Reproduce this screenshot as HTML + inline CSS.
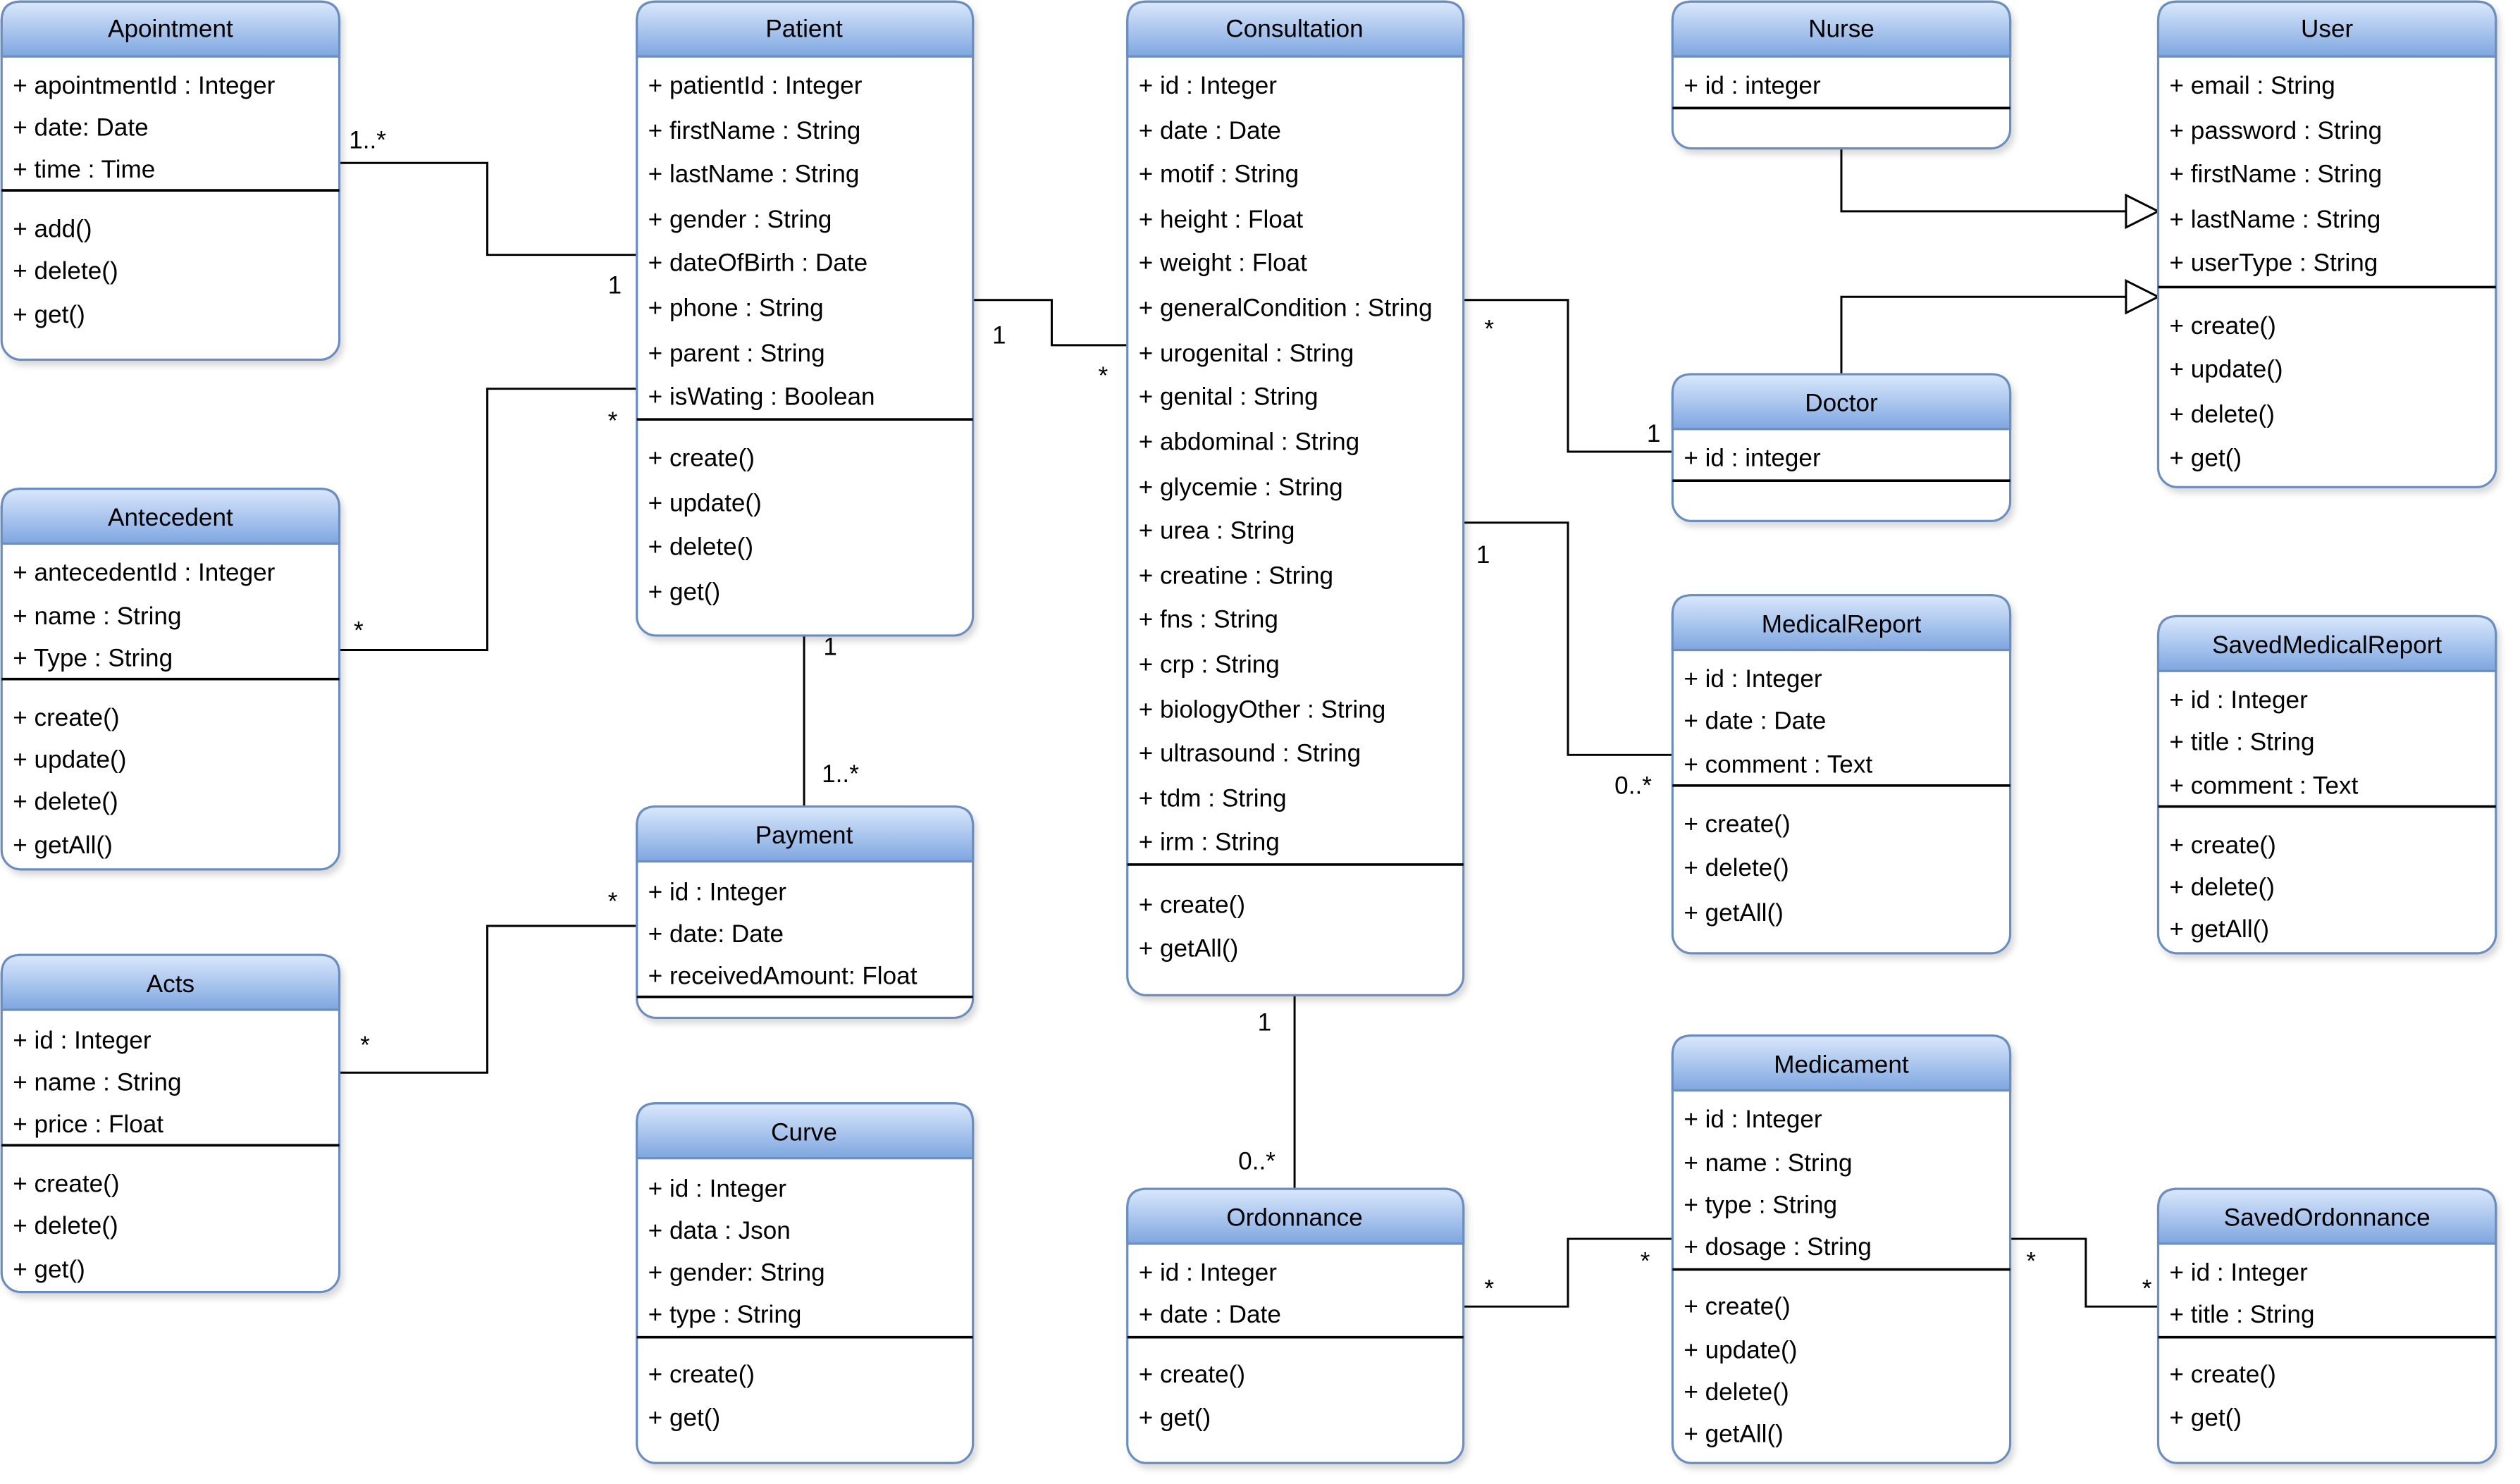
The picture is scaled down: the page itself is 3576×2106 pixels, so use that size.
<!DOCTYPE html>
<html><head><meta charset="utf-8"><style>
html,body{margin:0;padding:0;background:#fff;}
svg{display:block;}
text{font-family:"Liberation Sans",Arial,sans-serif;font-size:15.4px;fill:#000;}
.t{text-anchor:middle;}
.b{fill:#fff;stroke:#6c8ebf;stroke-width:1.4;}
.h{fill:url(#g);stroke:#6c8ebf;stroke-width:1.4;}
.d{stroke:#000;stroke-width:1.6;}
.c{fill:none;stroke:#000;stroke-width:1.3;}
.m{font-size:14px;}
</style></head><body>
<svg width="3576" height="2106" viewBox="0 0 1567 920" preserveAspectRatio="none" xmlns="http://www.w3.org/2000/svg">
<defs>
<linearGradient id="g" x1="0" y1="0" x2="0" y2="1"><stop offset="0" stop-color="#dae8fc"/><stop offset="1" stop-color="#7ea6e0"/></linearGradient>
<filter id="s" x="-10%" y="-10%" width="130%" height="130%"><feDropShadow dx="2" dy="3" stdDeviation="2" flood-color="#000" flood-opacity="0.15"/></filter>
</defs>

<!-- connectors -->
<polyline class="c" points="211,101 303,101 303,158 396,158"/>
<polyline class="c" points="211,403 303,403 303,241 396,241"/>
<polyline class="c" points="605,186 654,186 654,214 701,214"/>
<polyline class="c" points="500,394 500,500"/>
<polyline class="c" points="211,665 303,665 303,574 396,574"/>
<polyline class="c" points="910,186 975,186 975,280 1040,280"/>
<polyline class="c" points="910,324 975,324 975,468 1040,468"/>
<polyline class="c" points="805,617 805,737"/>
<polyline class="c" points="910,810 975,810 975,768 1040,768"/>
<polyline class="c" points="1250,768 1297,768 1297,810 1342,810"/>
<polyline class="c" points="1145,92 1145,131 1322,131"/>
<polygon points="1322,121 1342,131 1322,141" fill="#fff" stroke="#000" stroke-width="1.3"/>
<polyline class="c" points="1145,232 1145,184 1322,184"/>
<polygon points="1322,174 1342,184 1322,194" fill="#fff" stroke="#000" stroke-width="1.3"/>

<g class="m">
<text x="217" y="92">1..*</text><text x="378" y="182">1</text>
<text x="220" y="396">*</text><text x="378" y="266">*</text>
<text x="617" y="213">1</text><text x="683" y="238">*</text>
<text x="512" y="406">1</text><text x="511" y="485">1..*</text>
<text x="224" y="653">*</text><text x="378" y="564">*</text>
<text x="923" y="209">*</text><text x="1024" y="274">1</text>
<text x="918" y="349">1</text><text x="1004" y="492">0..*</text>
<text x="782" y="639">1</text><text x="770" y="725">0..*</text>
<text x="923" y="804">*</text><text x="1020" y="787">*</text>
<text x="1260" y="787">*</text><text x="1332" y="804">*</text>
</g>

<!-- Apointment -->
<g filter="url(#s)"><rect class="b" x="1" y="1" width="210" height="222" rx="12"/>
<path class="h" d="M1,35 V13 Q1,1 13,1 H199 Q211,1 211,13 V35 Z"/></g>
<text class="t" x="106" y="23">Apointment</text>
<text x="8" y="58">+ apointmentId : Integer</text><text x="8" y="84">+ date: Date</text><text x="8" y="110">+ time : Time</text>
<line class="d" x1="1" y1="118" x2="211" y2="118"/>
<text x="8" y="147">+ add()</text><text x="8" y="173">+ delete()</text><text x="8" y="200">+ get()</text>

<!-- Patient -->
<g filter="url(#s)"><rect class="b" x="396" y="1" width="209" height="393" rx="12"/>
<path class="h" d="M396,35 V13 Q396,1 408,1 H593 Q605,1 605,13 V35 Z"/></g>
<text class="t" x="500" y="23">Patient</text>
<text x="403" y="58">+ patientId : Integer</text><text x="403" y="86">+ firstName : String</text><text x="403" y="113">+ lastName : String</text><text x="403" y="141">+ gender : String</text><text x="403" y="168">+ dateOfBirth : Date</text><text x="403" y="196">+ phone : String</text><text x="403" y="224">+ parent : String</text><text x="403" y="251">+ isWating : Boolean</text>
<line class="d" x1="396" y1="260" x2="605" y2="260"/>
<text x="403" y="289">+ create()</text><text x="403" y="317">+ update()</text><text x="403" y="344">+ delete()</text><text x="403" y="372">+ get()</text>

<!-- Consultation -->
<g filter="url(#s)"><rect class="b" x="701" y="1" width="209" height="616" rx="12"/>
<path class="h" d="M701,35 V13 Q701,1 713,1 H898 Q910,1 910,13 V35 Z"/></g>
<text class="t" x="805" y="23">Consultation</text>
<text x="708" y="58">+ id : Integer</text><text x="708" y="86">+ date : Date</text><text x="708" y="113">+ motif : String</text><text x="708" y="141">+ height : Float</text><text x="708" y="168">+ weight : Float</text><text x="708" y="196">+ generalCondition : String</text><text x="708" y="224">+ urogenital : String</text><text x="708" y="251">+ genital : String</text><text x="708" y="279">+ abdominal : String</text><text x="708" y="307">+ glycemie : String</text><text x="708" y="334">+ urea : String</text><text x="708" y="362">+ creatine : String</text><text x="708" y="389">+ fns : String</text><text x="708" y="417">+ crp : String</text><text x="708" y="445">+ biologyOther : String</text><text x="708" y="472">+ ultrasound : String</text><text x="708" y="500">+ tdm : String</text><text x="708" y="527">+ irm : String</text>
<line class="d" x1="701" y1="536" x2="910" y2="536"/>
<text x="708" y="566">+ create()</text><text x="708" y="593">+ getAll()</text>

<!-- Nurse -->
<g filter="url(#s)"><rect class="b" x="1040" y="1" width="210" height="91" rx="12"/>
<path class="h" d="M1040,35 V13 Q1040,1 1052,1 H1238 Q1250,1 1250,13 V35 Z"/></g>
<text class="t" x="1145" y="23">Nurse</text>
<text x="1047" y="58">+ id : integer</text>
<line class="d" x1="1040" y1="67" x2="1250" y2="67"/>

<!-- User -->
<g filter="url(#s)"><rect class="b" x="1342" y="1" width="210" height="301" rx="12"/>
<path class="h" d="M1342,35 V13 Q1342,1 1354,1 H1540 Q1552,1 1552,13 V35 Z"/></g>
<text class="t" x="1447" y="23">User</text>
<text x="1349" y="58">+ email : String</text><text x="1349" y="86">+ password : String</text><text x="1349" y="113">+ firstName : String</text><text x="1349" y="141">+ lastName : String</text><text x="1349" y="168">+ userType : String</text>
<line class="d" x1="1342" y1="178" x2="1552" y2="178"/>
<text x="1349" y="207">+ create()</text><text x="1349" y="234">+ update()</text><text x="1349" y="262">+ delete()</text><text x="1349" y="289">+ get()</text>

<!-- Doctor -->
<g filter="url(#s)"><rect class="b" x="1040" y="232" width="210" height="91" rx="12"/>
<path class="h" d="M1040,266 V244 Q1040,232 1052,232 H1238 Q1250,232 1250,244 V266 Z"/></g>
<text class="t" x="1145" y="255">Doctor</text>
<text x="1047" y="289">+ id : integer</text>
<line class="d" x1="1040" y1="298" x2="1250" y2="298"/>

<!-- MedicalReport -->
<g filter="url(#s)"><rect class="b" x="1040" y="369" width="210" height="222" rx="12"/>
<path class="h" d="M1040,403 V381 Q1040,369 1052,369 H1238 Q1250,369 1250,381 V403 Z"/></g>
<text class="t" x="1145" y="392">MedicalReport</text>
<text x="1047" y="426">+ id : Integer</text><text x="1047" y="452">+ date : Date</text><text x="1047" y="479">+ comment : Text</text>
<line class="d" x1="1040" y1="487" x2="1250" y2="487"/>
<text x="1047" y="516">+ create()</text><text x="1047" y="543">+ delete()</text><text x="1047" y="571">+ getAll()</text>

<!-- SavedMedicalReport -->
<g filter="url(#s)"><rect class="b" x="1342" y="382" width="210" height="209" rx="12"/>
<path class="h" d="M1342,416 V394 Q1342,382 1354,382 H1540 Q1552,382 1552,394 V416 Z"/></g>
<text class="t" x="1447" y="405">SavedMedicalReport</text>
<text x="1349" y="439">+ id : Integer</text><text x="1349" y="465">+ title : String</text><text x="1349" y="492">+ comment : Text</text>
<line class="d" x1="1342" y1="500" x2="1552" y2="500"/>
<text x="1349" y="529">+ create()</text><text x="1349" y="555">+ delete()</text><text x="1349" y="581">+ getAll()</text>

<!-- Antecedent -->
<g filter="url(#s)"><rect class="b" x="1" y="303" width="210" height="236" rx="12"/>
<path class="h" d="M1,337 V315 Q1,303 13,303 H199 Q211,303 211,315 V337 Z"/></g>
<text class="t" x="106" y="326">Antecedent</text>
<text x="8" y="360">+ antecedentId : Integer</text><text x="8" y="387">+ name : String</text><text x="8" y="413">+ Type : String</text>
<line class="d" x1="1" y1="421" x2="211" y2="421"/>
<text x="8" y="450">+ create()</text><text x="8" y="476">+ update()</text><text x="8" y="502">+ delete()</text><text x="8" y="529">+ getAll()</text>

<!-- Payment -->
<g filter="url(#s)"><rect class="b" x="396" y="500" width="209" height="131" rx="12"/>
<path class="h" d="M396,534 V512 Q396,500 408,500 H593 Q605,500 605,512 V534 Z"/></g>
<text class="t" x="500" y="523">Payment</text>
<text x="403" y="558">+ id : Integer</text><text x="403" y="584">+ date: Date</text><text x="403" y="610">+ receivedAmount: Float</text>
<line class="d" x1="396" y1="618" x2="605" y2="618"/>

<!-- Acts -->
<g filter="url(#s)"><rect class="b" x="1" y="592" width="210" height="209" rx="12"/>
<path class="h" d="M1,626 V604 Q1,592 13,592 H199 Q211,592 211,604 V626 Z"/></g>
<text class="t" x="106" y="615">Acts</text>
<text x="8" y="650">+ id : Integer</text><text x="8" y="676">+ name : String</text><text x="8" y="702">+ price : Float</text>
<line class="d" x1="1" y1="710" x2="211" y2="710"/>
<text x="8" y="739">+ create()</text><text x="8" y="765">+ delete()</text><text x="8" y="792">+ get()</text>

<!-- Curve -->
<g filter="url(#s)"><rect class="b" x="396" y="684" width="209" height="223" rx="12"/>
<path class="h" d="M396,718 V696 Q396,684 408,684 H593 Q605,684 605,696 V718 Z"/></g>
<text class="t" x="500" y="707">Curve</text>
<text x="403" y="742">+ id : Integer</text><text x="403" y="768">+ data : Json</text><text x="403" y="794">+ gender: String</text><text x="403" y="820">+ type : String</text>
<line class="d" x1="396" y1="829" x2="605" y2="829"/>
<text x="403" y="857">+ create()</text><text x="403" y="884">+ get()</text>

<!-- Ordonnance -->
<g filter="url(#s)"><rect class="b" x="701" y="737" width="209" height="170" rx="12"/>
<path class="h" d="M701,771 V749 Q701,737 713,737 H898 Q910,737 910,749 V771 Z"/></g>
<text class="t" x="805" y="760">Ordonnance</text>
<text x="708" y="794">+ id : Integer</text><text x="708" y="820">+ date : Date</text>
<line class="d" x1="701" y1="829" x2="910" y2="829"/>
<text x="708" y="857">+ create()</text><text x="708" y="884">+ get()</text>

<!-- Medicament -->
<g filter="url(#s)"><rect class="b" x="1040" y="642" width="210" height="265" rx="12"/>
<path class="h" d="M1040,676 V654 Q1040,642 1052,642 H1238 Q1250,642 1250,654 V676 Z"/></g>
<text class="t" x="1145" y="665">Medicament</text>
<text x="1047" y="699">+ id : Integer</text><text x="1047" y="726">+ name : String</text><text x="1047" y="752">+ type : String</text><text x="1047" y="778">+ dosage : String</text>
<line class="d" x1="1040" y1="787" x2="1250" y2="787"/>
<text x="1047" y="815">+ create()</text><text x="1047" y="842">+ update()</text><text x="1047" y="868">+ delete()</text><text x="1047" y="894">+ getAll()</text>

<!-- SavedOrdonnance -->
<g filter="url(#s)"><rect class="b" x="1342" y="737" width="210" height="170" rx="12"/>
<path class="h" d="M1342,771 V749 Q1342,737 1354,737 H1540 Q1552,737 1552,749 V771 Z"/></g>
<text class="t" x="1447" y="760">SavedOrdonnance</text>
<text x="1349" y="794">+ id : Integer</text><text x="1349" y="820">+ title : String</text>
<line class="d" x1="1342" y1="829" x2="1552" y2="829"/>
<text x="1349" y="857">+ create()</text><text x="1349" y="884">+ get()</text>
</svg>
</body></html>
